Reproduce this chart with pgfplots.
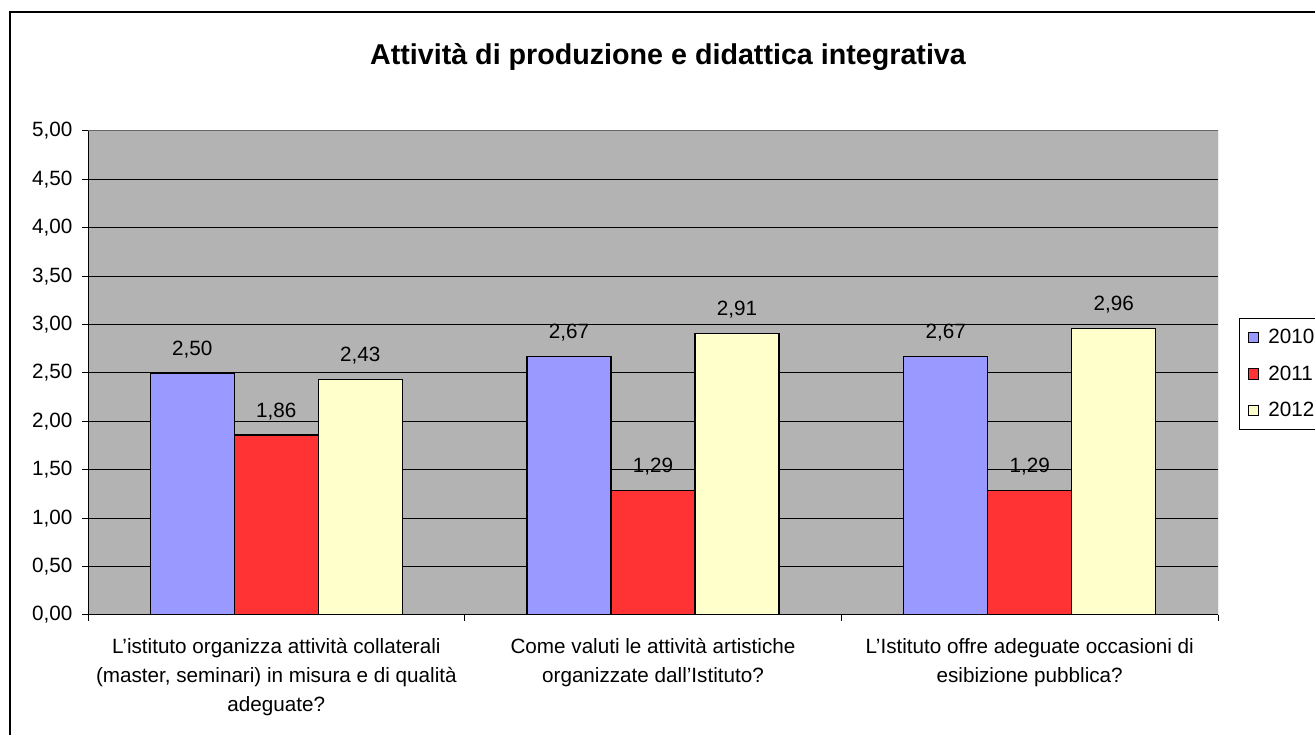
\documentclass[border=0pt]{standalone}
\usepackage{fontspec}
\setmainfont{Liberation Sans}
\usepackage{pgfplots}
\pgfplotsset{compat=1.18}
\definecolor{c2010}{HTML}{9999FF}
\definecolor{c2011}{HTML}{FF3333}
\definecolor{c2012}{HTML}{FFFFCC}
\definecolor{plotgray}{HTML}{B3B3B3}
\newcommand{\lab}{\fontsize{15.5}{21.75}\selectfont}
\pgfplotsset{
  sq legend/.style={legend image code/.code={
    \draw[##1,line width=0.6pt,draw=black] (0pt,-4pt) rectangle (8pt,4pt);}},
}
\begin{document}
\begin{tikzpicture}
\path[use as bounding box] (0,0) rectangle (986.25pt,551.25pt);
% frame (left and top only are visible)
\draw[line width=0.9pt] (7.5pt,0) -- (7.5pt,542.25pt) -- (990pt,542.25pt);
\node[font=\fontsize{21.5}{25}\selectfont\bfseries] at (501pt,508.5pt)
  {Attività di produzione e didattica integrativa};
\begin{axis}[
    at={(66pt,90pt)}, anchor=south west,
    scale only axis, width=847.5pt, height=363pt,
    ybar=0pt, bar width=63pt,
    xmin=-0.5, xmax=2.5, ymin=0, ymax=5,
    axis x line*=bottom, axis y line*=left,
    axis line style={black, line width=0.75pt, -},
    axis background/.style={fill=plotgray},
    xtick={0,1,2},
    xticklabels={
      {L’istituto organizza attività collaterali\\(master, seminari) in misura e di qualità\\adeguate?},
      {Come valuti le attività artistiche\\organizzate dall’Istituto?},
      {L’Istituto offre adeguate occasioni di\\esibizione pubblica?}},
    xticklabel style={align=center, font=\lab, inner sep=0pt, yshift=-13pt},
    major x tick style={draw=none},
    minor xtick={-0.5,0.5,1.5,2.5},
    ytick={0,0.5,1,1.5,2,2.5,3,3.5,4,4.5,5},
    yticklabel style={font=\lab, inner sep=0pt, xshift=-7pt},
    yticklabel={\pgfmathprintnumber[fixed,fixed zerofill,precision=2,use comma,assume math mode=true]{\tick}},
    tick align=outside,
    major tick length=4.5pt, minor tick length=4.5pt,
    tick style={black, line width=0.75pt},
    ymajorgrids, grid style={black, line width=0.75pt},
    nodes near coords={\pgfmathprintnumber[fixed,fixed zerofill,precision=2,use comma,assume math mode=true]{\pgfplotspointmeta}},
    nodes near coords style={font=\lab, text=black, anchor=south, inner sep=0pt, yshift=11pt},
    legend style={at={(1.0186,0.6136)}, anchor=north west, draw=black,
      line width=0.75pt, font=\lab, row sep=11pt, inner xsep=6pt, inner ysep=6pt},
    legend cell align=left,
]
\addplot[fill=c2010, draw=black, line width=0.9pt, sq legend] coordinates {(0,2.50) (1,2.67) (2,2.67)};
\addplot[fill=c2011, draw=black, line width=0.9pt, sq legend] coordinates {(0,1.86) (1,1.29) (2,1.29)};
\addplot[fill=c2012, draw=black, line width=0.9pt, sq legend] coordinates {(0,2.43) (1,2.91) (2,2.96)};
\legend{\hspace{5pt}2010,\hspace{5pt}2011,\hspace{5pt}2012}
\draw[gray!80!black, line width=0.75pt] (rel axis cs:0,1) -- (rel axis cs:1,1) -- (rel axis cs:1,0);
\end{axis}
\end{tikzpicture}
\end{document}
